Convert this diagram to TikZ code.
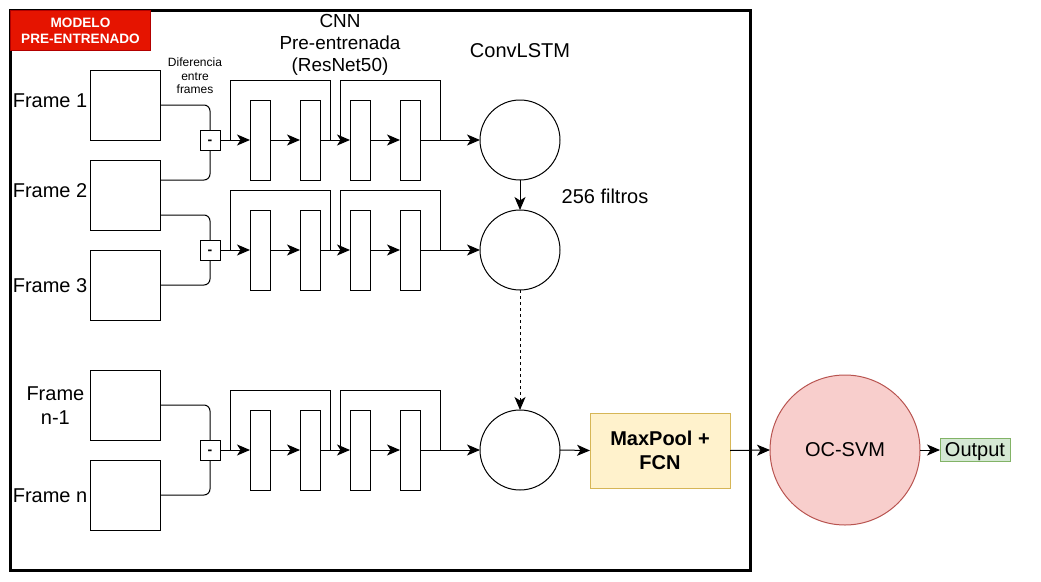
\documentclass[tikz,border=0pt]{standalone}
\usepackage{fontspec}
\setmainfont{Liberation Sans}
\usetikzlibrary{arrows.meta,positioning}
\definecolor{redfill}{HTML}{E51400}
\definecolor{redline}{HTML}{B20000}
\definecolor{yfill}{HTML}{FFF2CC}
\definecolor{yline}{HTML}{D6B656}
\definecolor{pfill}{HTML}{F8CECC}
\definecolor{pline}{HTML}{B85450}
\definecolor{gfill}{HTML}{D5E8D4}
\definecolor{gline}{HTML}{82B366}
\tikzset{
  framebox/.style={draw, line width=1pt, minimum width=70pt, minimum height=70pt, inner sep=0pt, outer sep=0pt},
  blockbox/.style={draw, line width=1pt, minimum width=20pt, minimum height=80pt, inner sep=0pt, outer sep=0pt},
  diffbox/.style={draw, line width=1pt, minimum width=20pt, minimum height=20pt, inner sep=0pt, outer sep=0pt, font=\bfseries\fontsize{14}{16}\selectfont, text height=12.7pt, text depth=3pt},
  lstm/.style={draw, circle, line width=1pt, minimum size=80pt, inner sep=0pt, outer sep=0pt},
  arr/.style={-{Stealth[length=13pt,width=11pt,inset=3.5pt]}, line width=1pt},
  plain/.style={line width=1pt},
  dio/.style={text height=18.1pt, text depth=4.2pt},
  bigtext/.style={font=\fontsize{20}{24}\selectfont, inner sep=0pt},
  framelabel/.style={font=\fontsize{20}{24}\selectfont, inner sep=0pt, anchor=east, align=center},
}
\begin{document}
\begin{tikzpicture}[x=1pt,y=-1pt]
\useasboundingbox (0,0) rectangle (1041,581);
% outer frame
\draw[line width=3pt] (10,10) rectangle (750,570);
\node[fill=redfill, draw=redline, line width=0.8pt, minimum width=140pt, minimum height=40pt, inner sep=0pt, text=white, align=center, font=\bfseries\fontsize{13.6}{16}\selectfont] (tag) at (80.5,30.5) {MODELO\\PRE-ENTRENADO};

% headings
\node[align=center, inner sep=0pt, font=\fontsize{18.9}{22}\selectfont] (cnn) at (340,45) {CNN\\Pre-entrenada\\(ResNet50)};
\node[bigtext] (clstm) at (520,51) {ConvLSTM};
\node[bigtext] (filt) at (605,196) {256 filtros};
\node[align=center, inner sep=0pt, font=\fontsize{12}{13.5}\selectfont] (dif) at (195,76) {Diferencia\\entre\\frames};

% frames
\node[framebox] (f1) at (125,105) {};
\node[framebox] (f2) at (125,195) {};
\node[framebox] (f3) at (125,285) {};
\node[framebox] (f4) at (125,405) {};
\node[framebox] (f5) at (125,495) {};
\node[framelabel] (l1) at (87.5,101) {Frame 1};
\node[framelabel] (l2) at (87.5,191) {Frame 2};
\node[framelabel] (l3) at (87.5,286) {Frame 3};
\node[framelabel] (l4) at (84.5,406) {Frame\\n-1};
\node[framelabel] (l5) at (87.5,496) {Frame n};

% rows
\foreach \r/\y in {1/140,2/250,3/450}{
  \node[diffbox] (d\r) at (210,\y) {-};
  \node[blockbox] (b\r1) at (260,\y) {};
  \node[blockbox] (b\r2) at (310,\y) {};
  \node[blockbox] (b\r3) at (360,\y) {};
  \node[blockbox] (b\r4) at (410,\y) {};
  \node[lstm] (c\r) at (520,\y) {};
  \coordinate (s\r a) at (230,\y);
  \coordinate (s\r b) at (330,\y);
  \coordinate (s\r c) at (340,\y);
  \coordinate (s\r d) at (440,\y);
  \draw[arr] (d\r.east) -- (b\r1.west);
  \draw[arr] (b\r1.east) -- (b\r2.west);
  \draw[arr] (b\r2.east) -- (b\r3.west);
  \draw[arr] (b\r3.east) -- (b\r4.west);
  \draw[arr] (b\r4.east) -- (c\r.west);
  \draw[plain] (s\r a) -- ++(0,-60) -| (s\r b);
  \draw[plain] (s\r c) -- ++(0,-60) -| (s\r d);
}

% frame to difference connectors
\draw[plain, rounded corners=6pt] (f1.east) -| (d1.north);
\draw[plain, rounded corners=6pt] ([yshift=-20pt]f2.north east) -| (d1.south);
\draw[plain, rounded corners=6pt] ([yshift=15pt]f2.south east) -| (d2.north);
\draw[plain, rounded corners=6pt] (f3.east) -| (d2.south);
\draw[plain, rounded corners=6pt] (f4.east) -| (d3.north);
\draw[plain, rounded corners=6pt] (f5.east) -| (d3.south);

% ConvLSTM chain
\draw[arr] (c1.south) -- (c2.north);
\draw[arr, dash pattern=on 3pt off 3pt] (c2.south) -- (c3.north);

% head
\node[draw=yline, fill=yfill, line width=1pt, minimum width=140pt, minimum height=75pt, inner sep=0pt, outer sep=0pt, align=center, font=\bfseries\fontsize{20}{24}\selectfont] (mp) at (660,450.5) {MaxPool +\\FCN};
\node[draw=pline, fill=pfill, circle, line width=1pt, minimum size=150pt, inner sep=0pt, outer sep=0pt, dio, font=\fontsize{20}{24}\selectfont] (svm) at (845,450) {OC-SVM};
\node[draw=gline, fill=gfill, line width=1pt, minimum width=70pt, minimum height=20pt, inner sep=0pt, outer sep=0pt, dio, font=\fontsize{20}{24}\selectfont] (out) at (975,450) {Output};

\draw[arr] (c3.east) -- (mp.west);
\draw[arr] (mp.east) -- (svm.west);
\draw[arr] (svm.east) -- (out.west);
\end{tikzpicture}
\end{document}
